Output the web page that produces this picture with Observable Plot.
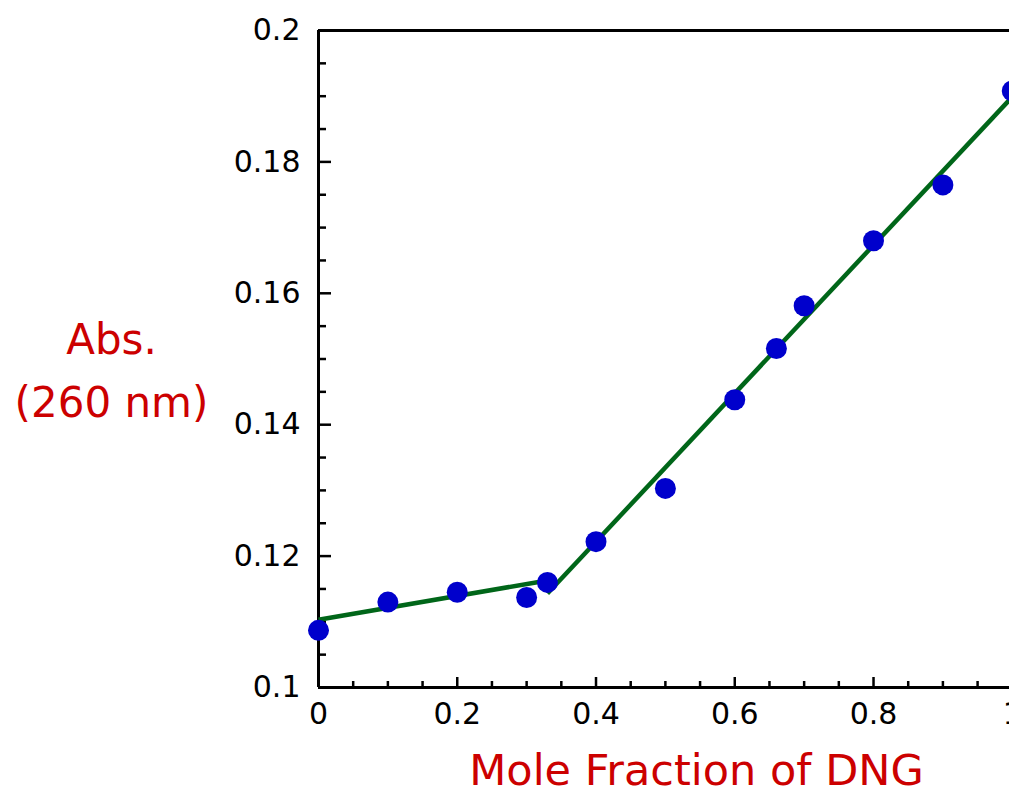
<!DOCTYPE html>
<html>
<head>
<meta charset="utf-8">
<script src="https://cdn.jsdelivr.net/npm/d3@7"></script>
<script src="https://cdn.jsdelivr.net/npm/@observablehq/plot@0.6"></script>
<style>
  html, body { margin: 0; padding: 0; background: #fff; }
</style>
</head>
<body>
<div id="chart"></div>
<script>
// Measured points
const moleFraction = [0, 0.1, 0.2, 0.3, 0.33, 0.4, 0.5, 0.6, 0.66, 0.7, 0.8, 0.9, 1.0];
const absorbance   = [0.1087, 0.1130, 0.1145, 0.1137, 0.1160, 0.1222, 0.1303, 0.1438, 0.1516, 0.1581, 0.1680, 0.1765, 0.1908];

// Fitted lines (two segments)
const fitSegment = ["low", "low", "high", "high"];
const fitX = [0, 0.33, 0.33, 1.0];
const fitY = [0.1103, 0.1163, 0.1143, 0.1899];

// Tick values
const xTickLabels = [0, 0.2, 0.4, 0.6, 0.8, 1];
const xMinorTicks = d3.range(0, 21).map(i => i * 0.05).filter((v, i) => i % 4 !== 0);
const yTickLabels = [0.1, 0.12, 0.14, 0.16, 0.18, 0.2];
const yMinorTicks = d3.range(0, 21).map(i => 0.1 + i * 0.005).filter((v, i) => i % 4 !== 0);

const points = moleFraction.map((x, i) => ({x, y: absorbance[i]}));
const fit = fitX.map((x, i) => ({x, y: fitY[i], seg: fitSegment[i]}));

const W = 1009, H = 796;
const mL = 318, mR = 0, mT = 30, mB = 109;
const innerW = W - mL - mR, innerH = H - mT - mB;
const font = "DejaVu Sans, sans-serif";
const red = "#cc0000";

const chart = Plot.plot({
  width: W,
  height: H,
  marginLeft: mL,
  marginRight: mR,
  marginTop: mT,
  marginBottom: mB,
  style: {fontFamily: font, background: "#fff", color: "#000"},
  x: {domain: [0, 0.996]},
  y: {domain: [0.1, 0.2]},
  marks: [
    // axis labels (numbers)
    Plot.axisX(xTickLabels, {tickSize: 0, tickPadding: 15, fontSize: 30, fill: "#000", tickFormat: d => String(d), label: null}),
    Plot.axisY(yTickLabels, {tickSize: 0, tickPadding: 18, fontSize: 30, fill: "#000", tickFormat: d => String(d), label: null}),
    // inward ticks
    Plot.tickX(xTickLabels, {x: d => d, insetTop: innerH - 10, stroke: "#000", strokeWidth: 2.5}),
    Plot.tickX(xMinorTicks, {x: d => d, insetTop: innerH - 6, stroke: "#000", strokeWidth: 2.5}),
    Plot.tickY(yTickLabels, {y: d => d, insetRight: innerW - 13, stroke: "#000", strokeWidth: 2.5}),
    Plot.tickY(yMinorTicks, {y: d => d, insetRight: innerW - 8, stroke: "#000", strokeWidth: 2.5}),
    // frame lines
    Plot.ruleX([0], {stroke: "#000", strokeWidth: 3}),
    Plot.ruleY([0.1], {stroke: "#000", strokeWidth: 3}),
    Plot.ruleY([0.2], {stroke: "#000", strokeWidth: 3}),
    // fitted lines
    Plot.line(fit, {x: "x", y: "y", z: "seg", stroke: "#006619", strokeWidth: 4.5, strokeLinecap: "butt"}),
    // points
    Plot.dot(points, {x: "x", y: "y", r: 10.5, fill: "#0000cc", stroke: "none"}),
    // axis titles
    Plot.text(["Mole Fraction of DNG"], {frameAnchor: "bottom", dx: 32.5, dy: 84, lineAnchor: "middle", fontSize: 43, fill: red, fontFamily: font}),
    Plot.text(["Abs.\n(260 nm)"], {frameAnchor: "left", dx: -207, dy: 6, textAnchor: "middle", lineAnchor: "middle", lineHeight: 1.5, fontSize: 42, fill: red, fontFamily: font})
  ]
});

document.getElementById("chart").appendChild(chart);
</script>
</body>
</html>
